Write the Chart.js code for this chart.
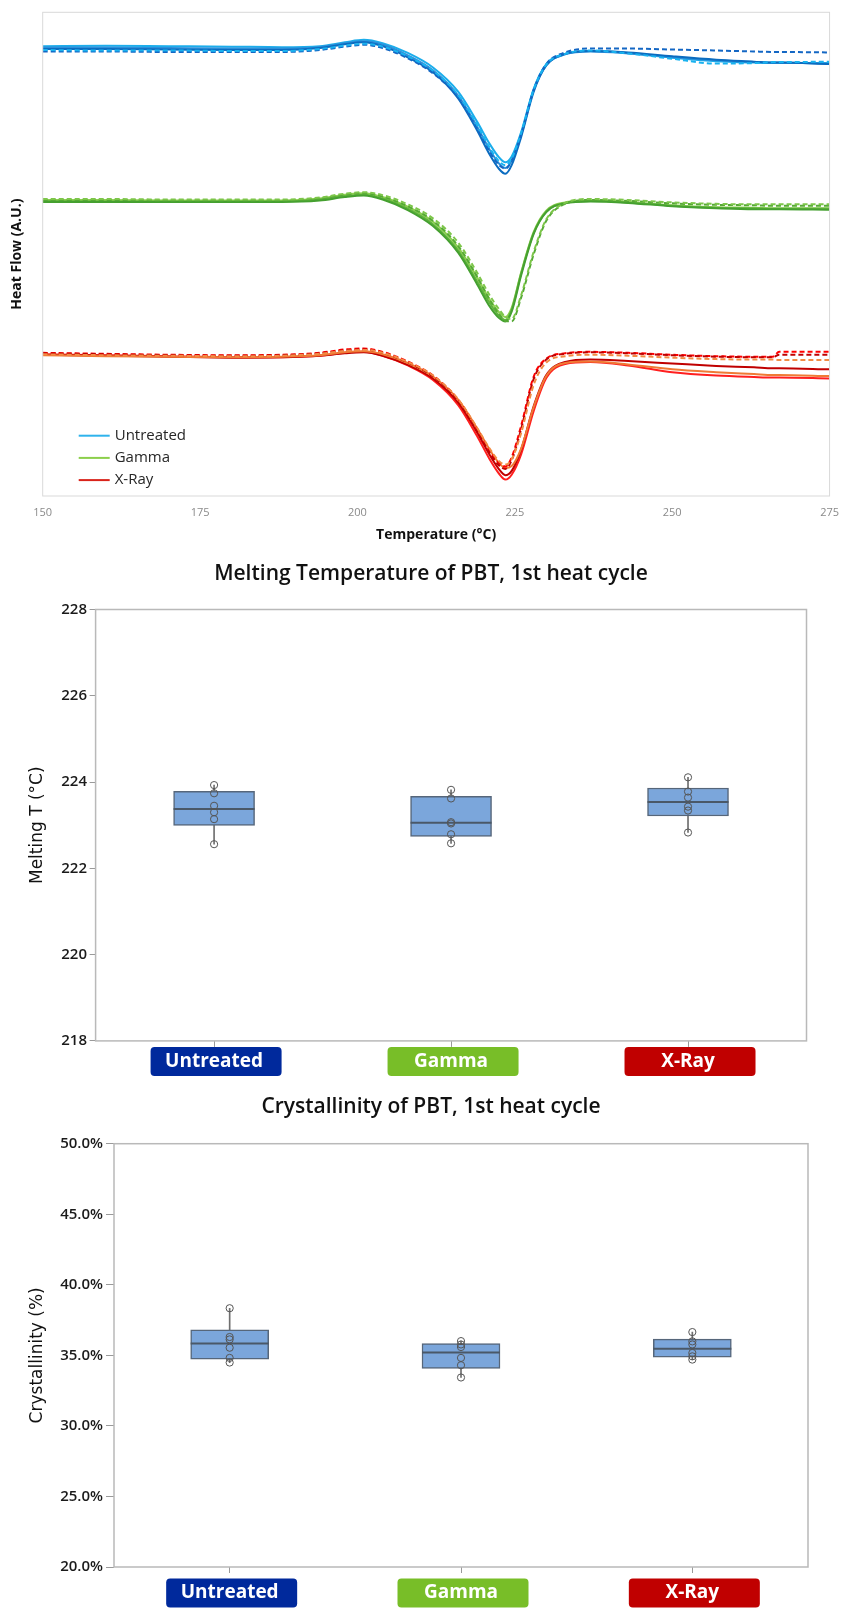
<!DOCTYPE html>
<html>
<head>
<meta charset="utf-8">
<script src="https://cdn.jsdelivr.net/npm/chart.js@4.4.1/dist/chart.umd.min.js"></script>
<style>
    body { margin: 0; background: #fff; width: 849px; height: 1608px; position: relative; overflow: hidden; }
    .panel { position: absolute; left: 0; width: 849px; }
    #dscPanel { top: 0; height: 545px; }
    #meltPanel { top: 550px; height: 540px; }
    #crystPanel { top: 1090px; height: 518px; }
</style>
</head>
<body>
<div class="panel" id="dscPanel"><canvas id="dscChart" width="849" height="545"></canvas></div>
<div class="panel" id="meltPanel"><canvas id="meltChart" width="849" height="540"></canvas></div>
<div class="panel" id="crystPanel"><canvas id="crystChart" width="849" height="518"></canvas></div>

<script>
// ---- DSC curves (heat flow in arbitrary units, offset per treatment) ----
const temps = [150, 160, 170, 180, 188, 194, 198, 201, 204, 208, 212, 216, 219, 221, 222.5, 223.5, 224.5, 226, 228, 230, 233, 237, 243, 250, 257, 263, 266, 267, 275];
const tempTicks = [150, 175, 200, 225, 250, 275];

const untreatedSolidA = [93.0, 93.1, 93.0, 92.9, 92.8, 93.0, 93.8, 94.3, 93.6, 91.6, 88.6, 83.6, 77.4, 72.8, 70.0, 69.0, 70.2, 75.2, 84.2, 89.3, 91.4, 92.0, 91.6, 90.6, 89.9, 89.6, 89.5, 89.5, 89.5];
const untreatedSolidB = [92.7, 92.7, 92.6, 92.5, 92.5, 92.8, 93.6, 94.0, 93.3, 91.1, 88.0, 82.8, 76.4, 71.6, 68.7, 67.8, 69.3, 74.6, 83.9, 89.1, 91.3, 91.9, 91.5, 90.7, 90.1, 89.7, 89.6, 89.6, 89.4];
const untreatedSolidC = [92.4, 92.4, 92.3, 92.2, 92.2, 92.6, 93.4, 93.8, 93.0, 90.7, 87.6, 82.2, 75.6, 70.6, 67.6, 66.6, 68.4, 74.2, 83.6, 89.0, 91.4, 92.0, 91.7, 90.9, 90.2, 89.8, 89.6, 89.6, 89.3];
const untreatedDashA = [92.2, 92.1, 92.1, 92.0, 92.0, 92.4, 93.1, 93.5, 92.9, 90.9, 87.9, 82.9, 76.7, 72.0, 69.2, 68.4, 69.8, 75.0, 84.0, 89.2, 91.4, 92.1, 91.5, 90.4, 89.4, 89.5, 89.7, 89.7, 89.8];
const untreatedDashB = [91.9, 91.9, 91.8, 91.8, 91.8, 92.2, 92.9, 93.3, 92.6, 90.5, 87.4, 82.4, 76.0, 71.2, 68.4, 67.7, 69.3, 74.8, 84.0, 89.3, 91.7, 92.5, 92.5, 92.3, 92.1, 91.9, 91.8, 91.8, 91.7];

const gammaSolidA = [61.2, 61.2, 61.1, 61.1, 61.1, 61.5, 62.3, 62.6, 61.8, 59.8, 56.7, 51.4, 45.2, 40.6, 38.0, 37.0, 38.9, 46.2, 54.6, 59.0, 60.7, 61.1, 60.8, 60.1, 59.7, 59.6, 59.5, 59.5, 59.5];
const gammaSolidB = [61.0, 60.9, 60.9, 60.9, 60.9, 61.3, 62.0, 62.3, 61.5, 59.4, 56.2, 50.8, 44.4, 39.9, 37.3, 36.4, 38.5, 46.0, 54.4, 58.8, 60.6, 61.0, 60.7, 60.0, 59.6, 59.5, 59.4, 59.4, 59.4];
const gammaSolidC = [60.8, 60.8, 60.8, 60.8, 60.8, 61.1, 61.8, 62.1, 61.3, 59.1, 55.8, 50.3, 43.8, 39.2, 36.8, 36.1, 38.1, 45.6, 54.2, 58.7, 60.5, 60.9, 60.6, 59.9, 59.5, 59.3, 59.3, 59.3, 59.2];
const gammaDashA = [61.4, 61.4, 61.3, 61.3, 61.3, 61.7, 62.5, 62.8, 62.2, 60.3, 57.4, 52.4, 46.2, 41.5, 38.6, 37.0, 36.6, 41.5, 50.5, 57.2, 60.6, 61.4, 61.2, 60.7, 60.4, 60.3, 60.3, 60.3, 60.3];
const gammaDashB = [61.2, 61.2, 61.1, 61.1, 61.1, 61.5, 62.3, 62.6, 61.9, 59.9, 56.9, 51.7, 45.4, 40.6, 37.6, 36.2, 36.1, 41.0, 50.0, 56.9, 60.4, 61.2, 61.0, 60.5, 60.2, 60.1, 60.0, 60.0, 60.0];

const xraySolidA = [29.3, 29.1, 28.9, 28.7, 28.7, 29.0, 29.6, 29.8, 29.0, 27.0, 24.0, 18.8, 12.4, 7.6, 4.6, 3.4, 4.4, 8.6, 17.6, 24.4, 27.3, 27.7, 27.0, 25.6, 24.9, 24.6, 24.5, 24.5, 24.3];
const xraySolidB = [29.2, 29.0, 28.8, 28.6, 28.7, 29.0, 29.5, 29.7, 29.0, 27.1, 24.3, 19.3, 13.2, 8.5, 5.5, 4.3, 5.2, 9.6, 18.6, 25.0, 27.7, 28.2, 27.9, 27.4, 26.9, 26.6, 26.4, 26.4, 26.2];
const xraySolidC = [29.1, 28.9, 28.8, 28.7, 28.8, 29.1, 29.7, 29.9, 29.3, 27.5, 24.7, 19.9, 14.0, 9.6, 6.8, 5.8, 6.2, 9.8, 18.4, 24.8, 27.5, 27.8, 27.2, 26.2, 25.6, 25.2, 25.0, 25.0, 24.8];
const xrayDashA = [29.6, 29.4, 29.2, 29.1, 29.2, 29.6, 30.3, 30.5, 29.8, 27.8, 24.9, 19.9, 13.8, 9.3, 6.8, 6.1, 8.0, 14.5, 24.7, 28.4, 29.5, 29.8, 29.6, 29.2, 28.9, 28.8, 28.8, 29.8, 29.8];
const xrayDashB = [29.5, 29.3, 29.1, 29.0, 29.1, 29.5, 30.1, 30.3, 29.6, 27.6, 24.7, 19.6, 13.4, 8.9, 6.3, 5.6, 7.4, 13.8, 24.2, 28.2, 29.4, 29.7, 29.5, 29.1, 28.8, 28.7, 28.7, 29.2, 29.2];
const xrayDashC = [29.3, 29.1, 29.0, 28.9, 29.0, 29.4, 30.0, 30.2, 29.6, 27.7, 24.9, 20.0, 14.1, 9.8, 7.2, 6.5, 7.6, 13.0, 23.0, 27.6, 28.9, 29.2, 29.0, 28.6, 28.3, 28.2, 28.2, 28.1, 28.1];

// ---- Box plot observations (6 samples per treatment) ----
const groups = ['Untreated', 'Gamma', 'X-Ray'];
const meltUntreated = [223.93, 223.74, 223.45, 223.30, 223.14, 222.56];
const meltGamma = [223.82, 223.62, 223.07, 223.04, 222.79, 222.58];
const meltXray = [224.11, 223.78, 223.64, 223.43, 223.34, 222.83];
const meltTicks = [218, 220, 222, 224, 226, 228];

const crystUntreated = [38.34, 36.30, 36.13, 35.54, 34.82, 34.49];
const crystGamma = [36.01, 35.77, 35.59, 34.82, 34.30, 33.43];
const crystXray = [36.65, 35.99, 35.77, 35.17, 34.93, 34.70];
const crystTicks = [20, 25, 30, 35, 40, 45, 50];

const legendColors = ['#2FB3EC', '#8CCF4B', '#D9231A'];
const tagColors = ['#00299C', '#78BE28', '#C00000'];

// draws a rectangle around the plot area
const framePlugin = {
    id: 'frame',
    afterDraw(chart, args, opts) {
        const { ctx, chartArea: a } = chart;
        ctx.save();
        ctx.strokeStyle = opts.color;
        ctx.lineWidth = opts.width;
        ctx.strokeRect(a.left, a.top, a.right - a.left, a.bottom - a.top);
        ctx.restore();
    }
};

// legend inside the bottom-left corner of the DSC plot
const dscLegendPlugin = {
    id: 'dscLegend',
    afterDraw(chart, args, opts) {
        const { ctx, chartArea: a } = chart;
        const entries = chart.data.datasets.filter(d => d.legendEntry);
        ctx.save();
        ctx.font = '15px "Open Sans", sans-serif';
        ctx.textBaseline = 'middle';
        entries.forEach((d, i) => {
            const y = a.bottom - opts.firstRow + i * opts.rowGap;
            const x = a.left + opts.offsetX;
            ctx.strokeStyle = d.legendColor;
            ctx.lineWidth = 2;
            ctx.beginPath();
            ctx.moveTo(x, y);
            ctx.lineTo(x + opts.lineLen, y);
            ctx.stroke();
            ctx.fillStyle = '#262626';
            ctx.fillText(d.legendEntry, x + opts.lineLen + 5, y);
        });
        ctx.restore();
    }
};

// coloured rounded tags behind the category labels
const tagPlugin = {
    id: 'groupTags',
    beforeDraw(chart, args, opts) {
        const { ctx, chartArea: a } = chart;
        const xScale = chart.scales.x;
        ctx.save();
        groups.forEach((g, i) => {
            const cx = xScale.getPixelForValue(i) + opts.shift;
            const cy = a.bottom + opts.centerOffset;
            ctx.fillStyle = opts.colors[i];
            ctx.beginPath();
            ctx.roundRect(cx - opts.width / 2, cy - opts.height / 2, opts.width, opts.height, 4);
            ctx.fill();
        });
        ctx.restore();
    }
};

function toPoints(values) {
    return temps.map((t, i) => ({ x: t, y: values[i] }));
}

function dscLine(values, color, dashed, legend) {
    return {
        data: toPoints(values),
        borderColor: color,
        borderWidth: 2,
        borderDash: dashed ? [5, 3] : [],
        pointRadius: 0,
        cubicInterpolationMode: 'monotone',
        legendEntry: legend ? legend.label : null,
        legendColor: legend ? legend.color : null
    };
}

new Chart(document.getElementById('dscChart'), {
    type: 'line',
    data: {
        datasets: [
            dscLine(untreatedDashA, '#19B2EF', true),
            dscLine(untreatedDashB, '#1467C4', true),
            dscLine(untreatedSolidC, '#0B6CC0', false),
            dscLine(untreatedSolidB, '#2C8FDA', false),
            dscLine(untreatedSolidA, '#1CADEB', false, { label: groups[0], color: legendColors[0] }),
            dscLine(gammaDashA, '#7DC64A', true),
            dscLine(gammaDashB, '#55A935', true),
            dscLine(gammaSolidC, '#45A030', false),
            dscLine(gammaSolidB, '#62B53C', false),
            dscLine(gammaSolidA, '#8CCF4F', false, { label: groups[1], color: legendColors[1] }),
            dscLine(xrayDashC, '#F28C45', true),
            dscLine(xrayDashB, '#C00000', true),
            dscLine(xrayDashA, '#FF0000', true),
            dscLine(xraySolidC, '#F07A35', false),
            dscLine(xraySolidB, '#C00000', false),
            dscLine(xraySolidA, '#FF1F1F', false, { label: groups[2], color: legendColors[2] })
        ]
    },
    options: {
        responsive: false,
        animation: false,
        layout: { padding: { top: 12.3, right: 10.7, left: 0, bottom: 0 } },
        scales: {
            x: {
                type: 'linear',
                min: 150,
                max: 275,
                afterBuildTicks: scale => { scale.ticks = tempTicks.map(v => ({ value: v })); },
                afterFit: scale => { scale.height = 49; },
                grid: { display: false, drawTicks: false },
                border: { display: false },
                ticks: { color: '#8a8a8a', padding: 10, font: { family: 'Open Sans', size: 11 } },
                title: {
                    display: true,
                    text: 'Temperature (°C)',
                    color: '#111',
                    padding: { top: 0, bottom: 1.6 },
                    font: { family: 'Open Sans', size: 14, weight: 'bold' }
                }
            },
            y: {
                min: 0,
                max: 100,
                afterFit: scale => { scale.width = 42.7; },
                grid: { display: false, drawTicks: false },
                border: { display: false },
                ticks: { display: false },
                title: {
                    display: true,
                    text: 'Heat Flow (A.U.)',
                    color: '#111',
                    padding: { top: 9.1, bottom: 0 },
                    font: { family: 'Open Sans', size: 14, weight: 'bold' }
                }
            }
        },
        plugins: {
            legend: { display: false },
            tooltip: { enabled: false },
            frame: { color: '#d9d9d9', width: 1 },
            dscLegend: { offsetX: 36, lineLen: 31, firstRow: 60.3, rowGap: 22.2 }
        }
    },
    plugins: [framePlugin, dscLegendPlugin]
});

/**
 * Minitab-style quantile of a sample
 */
function quantile(values, p) {
    const s = [...values].sort((a, b) => a - b);
    const pos = p * (s.length + 1) - 1;
    const lo = Math.floor(pos);
    if (lo < 0) return s[0];
    if (lo >= s.length - 1) return s[s.length - 1];
    return s[lo] + (pos - lo) * (s[lo + 1] - s[lo]);
}

/**
 * Build a box plot from three samples using floating bars
 */
function makeBoxChart(canvasId, samples, cfg) {
    const boxes = samples.map(s => [quantile(s, 0.25), quantile(s, 0.75)]);
    const whiskers = samples.map(s => [Math.min(...s), Math.max(...s)]);
    const medians = samples.map(s => quantile(s, 0.5));
    const pointSets = samples[0].map((_, i) => ({
        type: 'line',
        data: samples.map(s => s[i]),
        showLine: false,
        pointStyle: 'circle',
        pointRadius: 3.6,
        pointBorderWidth: 1,
        pointBorderColor: '#555',
        pointBackgroundColor: 'rgba(0,0,0,0)',
        order: 1
    }));

    new Chart(document.getElementById(canvasId), {
        type: 'bar',
        data: {
            labels: groups,
            datasets: [
                {
                    data: whiskers,
                    backgroundColor: '#6f6f6f',
                    barThickness: 1,
                    grouped: false,
                    order: 4
                },
                {
                    data: boxes,
                    backgroundColor: '#7BA6DB',
                    borderColor: '#56667A',
                    borderWidth: 1.5,
                    borderSkipped: false,
                    barThickness: cfg.boxWidth,
                    grouped: false,
                    order: 3
                },
                {
                    type: 'line',
                    data: medians,
                    showLine: false,
                    pointStyle: 'line',
                    pointRadius: cfg.boxWidth / 2,
                    pointBorderWidth: 2,
                    pointBorderColor: '#4A5868',
                    order: 2
                },
                ...pointSets
            ]
        },
        options: {
            responsive: false,
            animation: false,
            layout: { padding: { top: 0, left: 13, right: 0, bottom: 0 } },
            scales: {
                x: {
                    afterFit: scale => { scale.height = cfg.xHeight; },
                    grid: { display: true, offset: false, drawOnChartArea: false, tickLength: 6, color: '#9a9a9a' },
                    border: { display: false },
                    ticks: {
                        color: '#fff',
                        padding: cfg.labelPad,
                        font: { family: 'Open Sans', size: 19, weight: 'bold' }
                    }
                },
                y: {
                    min: cfg.ticks[0],
                    max: cfg.ticks[cfg.ticks.length - 1],
                    afterBuildTicks: scale => { scale.ticks = cfg.ticks.map(v => ({ value: v })); },
                    afterFit: scale => { scale.width = cfg.yWidth; },
                    grid: { display: true, drawOnChartArea: false, tickLength: cfg.tickLen, color: '#9a9a9a' },
                    border: { display: false },
                    ticks: {
                        color: '#1a1a1a',
                        padding: cfg.tickPad,
                        font: { family: 'Open Sans', size: 15, weight: '600' },
                        callback: cfg.format
                    },
                    title: {
                        display: true,
                        text: cfg.yTitle,
                        color: '#111',
                        padding: { top: 14.8, bottom: 0 },
                        font: { family: 'DejaVu Sans', size: 17 }
                    }
                },
                y2: {
                    position: 'right',
                    afterFit: scale => { scale.width = cfg.rightGap; },
                    grid: { display: false },
                    border: { display: false },
                    ticks: { display: false }
                }
            },
            plugins: {
                legend: { display: false },
                tooltip: { enabled: false },
                title: {
                    display: true,
                    text: cfg.title,
                    color: '#111',
                    padding: cfg.titlePad,
                    font: { family: 'Open Sans', size: 21, weight: '600' }
                },
                frame: { color: '#b9b9b9', width: 1.5 },
                groupTags: { colors: tagColors, width: 131, height: 29, centerOffset: cfg.tagOffset, shift: 2 }
            }
        },
        plugins: [framePlugin, tagPlugin]
    });
}

makeBoxChart('meltChart', [meltUntreated, meltGamma, meltXray], {
    title: 'Melting Temperature of PBT, 1st heat cycle',
    titlePad: { top: 11.9, bottom: 22.4 },
    yTitle: 'Melting T (°C)',
    ticks: meltTicks,
    format: v => v,
    yWidth: 82.6,
    rightGap: 32.6,
    xHeight: 49.1,
    tickLen: 6,
    tickPad: 2.6,
    boxWidth: 81,
    labelPad: 3.2,
    tagOffset: 20.6
});

makeBoxChart('crystChart', [crystUntreated, crystGamma, crystXray], {
    title: 'Crystallinity of PBT, 1st heat cycle',
    titlePad: { top: 4.9, bottom: 23.6 },
    yTitle: 'Crystallinity (%)',
    ticks: crystTicks,
    format: v => v.toFixed(1) + '%',
    yWidth: 101,
    rightGap: 33,
    xHeight: 38.3,
    tickLen: 8,
    tickPad: 3,
    boxWidth: 78,
    labelPad: 8.6,
    tagOffset: 26
});
</script>
</body>
</html>
